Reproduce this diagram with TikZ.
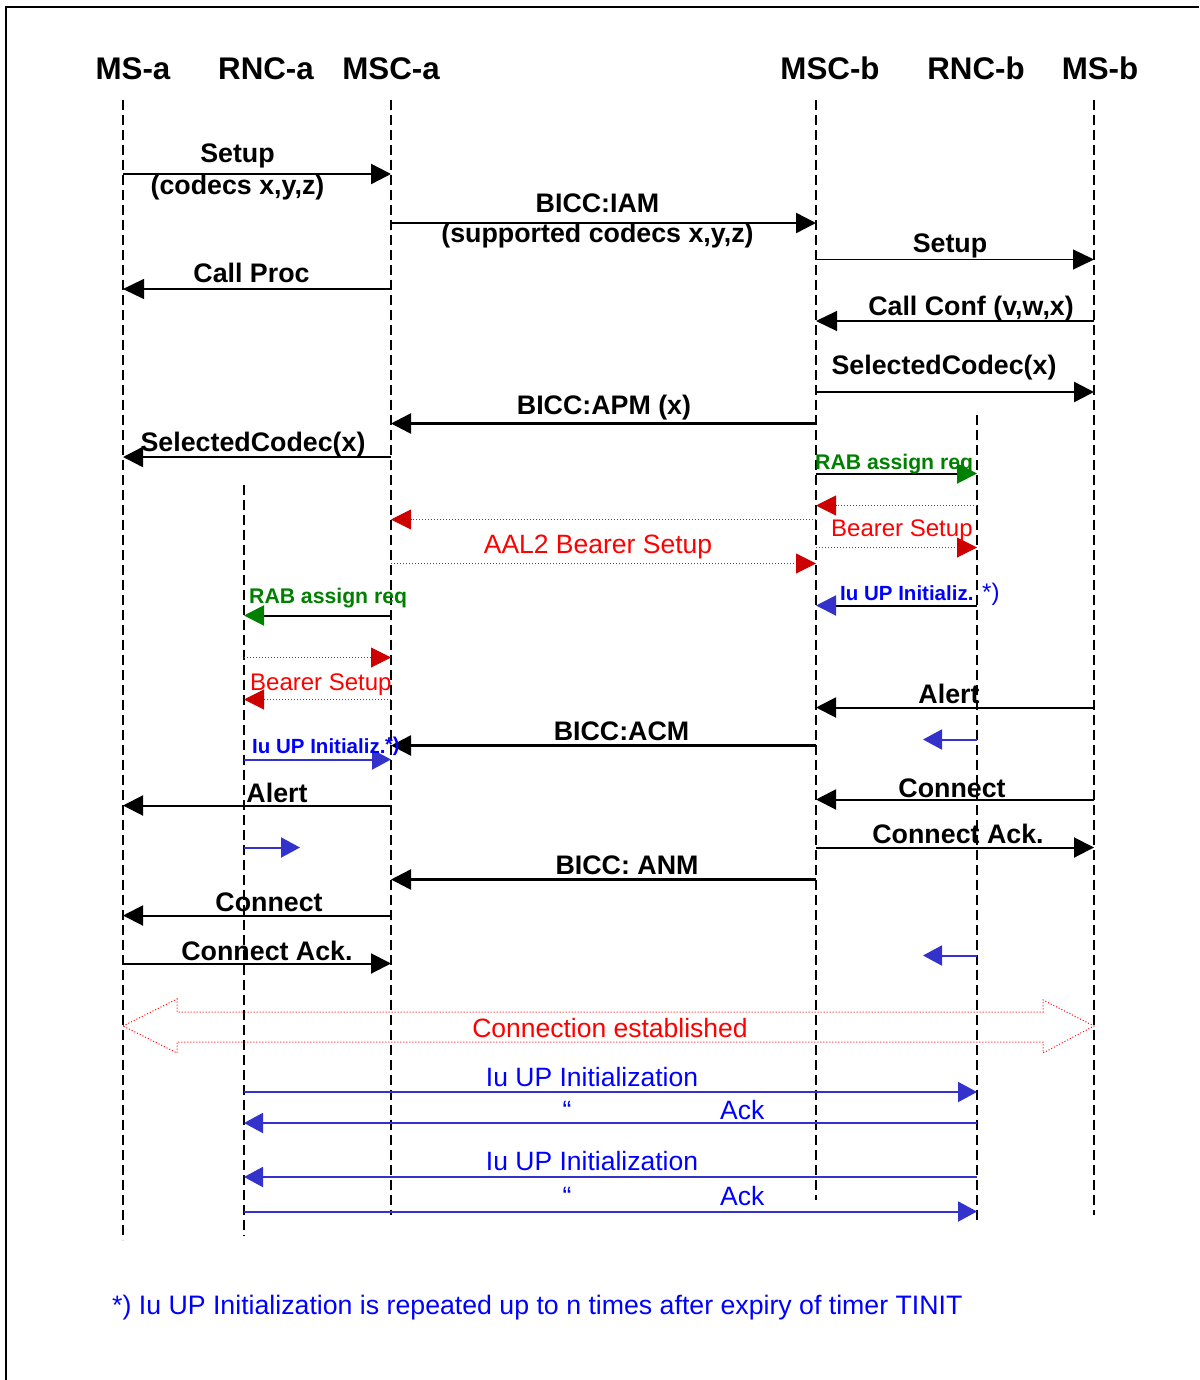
\documentclass[tikz,border=0pt]{standalone}
\usepackage{fontspec}
\setmainfont{Liberation Sans}
\usetikzlibrary{arrows.meta}
\definecolor{myblue}{RGB}{51,51,204}
\definecolor{txtblue}{RGB}{0,0,255}
\definecolor{tipred}{RGB}{204,0,0}
\definecolor{mygreen}{RGB}{0,128,0}
\begin{document}
\begin{tikzpicture}[x=1pt,y=-1pt,
  life/.style={line width=1.6pt, dash pattern=on 10pt off 5pt},
  hdr/.style={font=\bfseries\fontsize{31.3}{33}\selectfont, anchor=base, inner sep=0pt},
  lbl/.style={font=\bfseries\fontsize{26.8}{28}\selectfont, anchor=base, inner sep=0pt},
  grnlbl/.style={font=\bfseries\fontsize{21.2}{23}\selectfont, text=mygreen, anchor=base west, inner sep=0pt},
  redlbl/.style={font=\fontsize{24}{26}\selectfont, text=red, anchor=base west, inner sep=0pt},
  redbig/.style={font=\fontsize{26.5}{28}\selectfont, text=red, anchor=base, inner sep=0pt},
  iulbl/.style={font=\bfseries\fontsize{20.5}{22}\selectfont, text=txtblue, anchor=base west, inner sep=0pt},
  bluetxt/.style={font=\fontsize{26.5}{28}\selectfont, text=txtblue, inner sep=0pt},
  thk/.style={line width=2.5pt, -{Triangle[length=20pt,width=20pt]}},
  med/.style={line width=2pt, -{Triangle[length=20pt,width=20pt]}},
  thn/.style={line width=1.2pt, -{Triangle[length=21pt,width=20pt]}},
  grnmsg/.style={line width=2pt, -{Triangle[length=20pt,width=20pt,color=mygreen]}},
  bluehd/.style={line width=2pt, -{Triangle[length=20pt,width=20pt,color=myblue]}},
  bluemsg/.style={myblue, line width=2pt, -{Triangle[length=19pt,width=20pt]}},
  redmsg/.style={red, line width=1pt, dash pattern=on 1pt off 2pt, -{Triangle[length=20pt,width=20pt,color=tipred]}},
  ]
\useasboundingbox (0,0) rectangle (1199,1380);
% frame
\draw[line width=1.8pt] (1199,7) -- (6,7) -- (6,1380);

% headers
\node[hdr] (hMSa)  at (133,80)  {MS-a};
\node[hdr] (hRNCa) at (266,80)  {RNC-a};
\node[hdr] (hMSCa) at (391,80)  {MSC-a};
\node[hdr] (hMSCb) at (830,80)  {MSC-b};
\node[hdr] (hRNCb) at (976,80)  {RNC-b};
\node[hdr] (hMSb)  at (1100,80) {MS-b};

% lifelines
\coordinate (MSa)  at (123,100);  \coordinate (MSa-e)  at (123,1240);
\coordinate (RNCa) at (244,485);  \coordinate (RNCa-e) at (244,1236);
\coordinate (MSCa) at (391,100);  \coordinate (MSCa-e) at (391,1215);
\coordinate (MSCb) at (816,100);  \coordinate (MSCb-e) at (816,1200);
\coordinate (RNCb) at (977,415);  \coordinate (RNCb-e) at (977,1222);
\coordinate (MSb)  at (1094,100); \coordinate (MSb-e)  at (1094,1215);
\foreach \a in {MSa,RNCa,MSCa,MSCb,RNCb,MSb}{\draw[life] (\a) -- (\a-e);}

% messages
\draw[thk] (MSa |- 0,174) -- (MSCa |- 0,174);
\node[lbl] (l1a) at (237.5,163) {Setup};
\node[lbl] (l1b) at (237.5,195) {(codecs x,y,z)};

\draw[thk] (MSCa |- 0,223) -- (MSCb |- 0,223);
\node[lbl] (l2a) at (597.5,213) {BICC:IAM};
\node[lbl] (l2b) at (597.5,243) {(supported codecs x,y,z)};

\draw[thn] (MSCb |- 0,259.5) -- (MSb |- 0,259.5);
\node[lbl] (l3) at (950,252) {Setup};

\draw[thn] (MSCa |- 0,289) -- (MSa |- 0,289);
\node[lbl] (l4) at (251.5,282) {Call Proc};

\draw[thn] (MSb |- 0,321) -- (MSCb |- 0,321);
\node[lbl] (l5) at (971,315) {Call Conf (v,w,x)};

\draw[thk] (MSCb |- 0,392) -- (MSb |- 0,392);
\node[lbl] (l6) at (944,374) {SelectedCodec(x)};

\draw[thk] (MSCb |- 0,423.5) -- (MSCa |- 0,423.5);
\node[lbl] (l7) at (604,414) {BICC:APM (x)};

\draw[thk] (MSCa |- 0,457) -- (MSa |- 0,457);
\node[lbl] (l8) at (253,451) {SelectedCodec(x)};

% RNC-b side
\draw[grnmsg] (MSCb |- 0,473.5) -- (RNCb |- 0,473.5);
\node[grnlbl] (l9) at (815,469) {RAB assign req};

\draw[redmsg] (RNCb |- 0,505.5) -- (MSCb |- 0,505.5);
\draw[redmsg] (MSCb |- 0,547.5) -- (RNCb |- 0,547.5);
\node[redlbl] (l10) at (831,536) {Bearer Setup};

\draw[redmsg] (MSCb |- 0,519.5) -- (MSCa |- 0,519.5);
\draw[redmsg] (MSCa |- 0,563.5) -- (MSCb |- 0,563.5);
\node[redbig] (l11) at (598,553) {AAL2 Bearer Setup};

\draw[bluehd] (RNCb |- 0,605.5) -- (MSCb |- 0,605.5);
\node[iulbl] (l12) at (840,600) {Iu UP Initializ.};
\node[font=\fontsize{24}{26}\selectfont, text=txtblue, anchor=base west, inner sep=0pt] (l12s) at (982,600) {*)};

% RNC-a side
\draw[grnmsg] (MSCa |- 0,615.5) -- (RNCa |- 0,615.5);
\node[grnlbl] (l13) at (249,603) {RAB assign req};

\draw[redmsg] (RNCa |- 0,657.5) -- (MSCa |- 0,657.5);
\draw[redmsg] (MSCa |- 0,699.5) -- (RNCa |- 0,699.5);
\node[redlbl] (l14) at (250,690) {Bearer Setup};

\draw[med] (MSb |- 0,707.5) -- (MSCb |- 0,707.5);
\node[lbl] (l15) at (949,703) {Alert};

\coordinate (s1) at (923,739.5);
\draw[bluemsg] (RNCb |- 0,739.5) -- (s1);

\draw[thk] (MSCb |- 0,745.5) -- (MSCa |- 0,745.5);
\node[lbl] (l17) at (621.5,740) {BICC:ACM};

\draw[bluemsg] (RNCa |- 0,759.5) -- (MSCa |- 0,759.5);
\node[iulbl] (l18) at (252,753) {Iu UP Initializ.};
\node[font=\bfseries\fontsize{20}{22}\selectfont, text=txtblue, anchor=base west, inner sep=0pt] (l18s) at (385,751) {*)};

\draw[med] (MSCa |- 0,805.5) -- (MSa |- 0,805.5);
\node[lbl] (l19) at (277,802) {Alert};

\draw[med] (MSb |- 0,799.5) -- (MSCb |- 0,799.5);
\node[lbl] (l20) at (952,797) {Connect};

\coordinate (s2) at (300,847.5);
\draw[bluemsg] (RNCa |- 0,847.5) -- (s2);

\draw[med] (MSCb |- 0,847.5) -- (MSb |- 0,847.5);
\node[lbl] (l22) at (958,843) {Connect Ack.};

\draw[thk] (MSCb |- 0,879.5) -- (MSCa |- 0,879.5);
\node[lbl] (l23) at (627,874) {BICC: ANM};

\draw[med] (MSCa |- 0,915.5) -- (MSa |- 0,915.5);
\node[lbl] (l24) at (269,911) {Connect};

\coordinate (s3) at (923,955.5);
\draw[bluemsg] (RNCb |- 0,955.5) -- (s3);

\draw[med] (MSa |- 0,963.5) -- (MSCa |- 0,963.5);
\node[lbl] (l26) at (267,960) {Connect Ack.};

% connection established
\draw[red, line width=1pt, dash pattern=on 1pt off 2pt]
  (MSa |- 0,1026) -- (177,999) -- (177,1012) -- (1043,1012) -- (1043,1000)
  -- (MSb |- 0,1026) -- (1043,1053) -- (1043,1042) -- (177,1042) -- (177,1053) -- cycle;
\node[redbig] (l27) at (610,1037) {Connection established};

% Iu UP initialization exchanges
\draw[bluemsg] (RNCa |- 0,1092) -- (RNCb |- 0,1092);
\node[bluetxt, anchor=base] (l28) at (592,1086) {Iu UP Initialization};

\draw[bluemsg] (RNCb |- 0,1123) -- (RNCa |- 0,1123);
\node[bluetxt, anchor=base] (l29q) at (567,1119) {“};
\node[bluetxt, anchor=base west] (l29) at (720,1119) {Ack};

\draw[bluemsg] (RNCb |- 0,1177) -- (RNCa |- 0,1177);
\node[bluetxt, anchor=base] (l30) at (592,1170) {Iu UP Initialization};

\draw[bluemsg] (RNCa |- 0,1211.5) -- (RNCb |- 0,1211.5);
\node[bluetxt, anchor=base] (l31q) at (567,1205) {“};
\node[bluetxt, anchor=base west] (l31) at (720,1205) {Ack};

% footnote
\node[font=\fontsize{26.7}{28}\selectfont, text=txtblue, anchor=base west, inner sep=0pt] (fn) at (112,1314)
  {*) Iu UP Initialization is repeated up to n times after expiry of timer TINIT};
\end{tikzpicture}
\end{document}
